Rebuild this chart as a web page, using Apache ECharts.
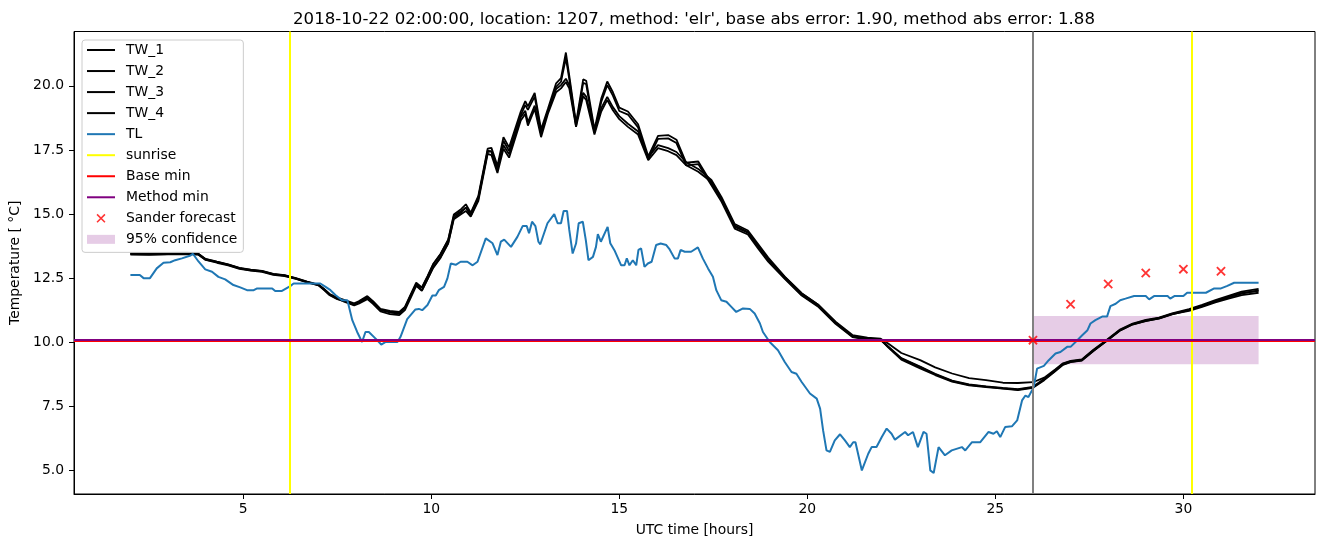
<!DOCTYPE html>
<html>
<head>
<meta charset="utf-8">
<script src="https://cdn.jsdelivr.net/npm/echarts@6/dist/echarts.min.js"></script>
<style>
html,body{margin:0;padding:0;background:#fff;}
#chart{width:1324px;height:547px;}
</style>
</head>
<body>
<div id="chart"></div>
<script>
// ---------- DATA ----------
const titleText = "2018-10-22 02:00:00, location: 1207, method: 'elr', base abs error: 1.90, method abs error: 1.88";
const xTicks = [5, 10, 15, 20, 25, 30];
const yTicks = [5.0, 7.5, 10.0, 12.5, 15.0, 17.5, 20.0];

const twHours = [
  2.0,2.5,3.0,3.5,3.8,4.0,4.3,4.6,4.9,5.2,
  5.5,5.8,6.1,6.4,6.7,7.0,7.15,7.3,7.5,7.7,
  7.95,8.07,8.3,8.45,8.65,8.9,9.15,9.3,9.45,9.6,
  9.75,9.9,10.05,10.25,10.45,10.6,10.8,10.92,11.05,11.25,
  11.5,11.6,11.76,11.92,12.07,12.38,12.5,12.57,12.75,12.92,
  13.1,13.32,13.45,13.58,13.67,13.85,14.04,14.12,14.34,14.52,
  14.68,14.83,15.0,15.23,15.5,15.77,16.03,16.3,16.52,16.78,
  17.1,17.45,17.72,18.07,18.42,18.7,18.96,19.4,19.85,20.3,
  20.75,21.2,21.6,21.95,22.15,22.5,23.0,23.4,23.85,24.3,
  24.75,25.2,25.6,26.0,26.3,26.6,26.8,27.0,27.3,27.6,
  27.95,28.3,28.65,29.0,29.35,29.7,30.15,30.5,30.85,31.2,
  31.55,32.0
];
const tw1 = [
  13.46,13.45,13.46,13.47,13.45,13.25,13.14,13.04,12.90,12.83,
  12.78,12.67,12.62,12.50,12.36,12.25,12.08,11.88,11.74,11.64,
  11.52,11.60,11.80,11.60,11.30,11.22,11.18,11.38,11.86,12.32,
  12.14,12.58,13.05,13.45,14.00,14.98,15.20,15.38,15.05,15.70,
  17.55,17.58,16.88,18.00,17.60,19.00,19.40,19.20,19.72,18.30,
  19.10,20.10,20.30,21.30,20.40,18.55,20.25,20.20,18.30,19.50,
  20.17,19.75,19.15,19.00,18.50,17.25,18.05,18.08,17.90,17.00,
  17.05,16.20,15.55,14.50,14.27,13.72,13.22,12.55,11.90,11.45,
  10.80,10.28,10.18,10.14,9.95,9.58,9.30,9.02,8.78,8.60,
  8.52,8.42,8.41,8.44,8.62,8.95,9.18,9.27,9.33,9.70,
  10.08,10.48,10.73,10.87,10.96,11.13,11.29,11.46,11.64,11.81,
  11.97,12.08
];
const tw2 = [
  13.42,13.41,13.43,13.44,13.42,13.21,13.10,13.00,12.86,12.79,
  12.74,12.63,12.58,12.47,12.33,12.22,12.03,11.83,11.68,11.60,
  11.46,11.55,11.72,11.55,11.25,11.16,11.12,11.33,11.80,12.25,
  12.02,12.46,12.92,13.33,13.87,14.85,15.07,15.25,14.93,15.57,
  17.42,17.45,16.75,17.86,17.46,18.86,19.26,19.06,19.58,18.17,
  18.97,19.96,20.16,21.08,20.26,18.42,20.12,20.06,18.17,19.37,
  20.03,19.62,19.02,18.88,18.38,17.13,17.93,17.95,17.77,16.90,
  16.95,16.12,15.48,14.43,14.20,13.64,13.14,12.47,11.82,11.37,
  10.72,10.20,10.10,10.08,9.82,9.36,9.03,8.75,8.48,8.34,
  8.27,8.20,8.15,8.24,8.55,8.90,9.14,9.23,9.29,9.66,
  10.04,10.44,10.69,10.83,10.92,11.09,11.25,11.41,11.59,11.75,
  11.90,12.02
];
const tw3 = [
  13.44,13.43,13.44,13.45,13.43,13.22,13.12,13.02,12.88,12.80,
  12.76,12.65,12.60,12.48,12.34,12.24,12.05,11.85,11.70,11.57,
  11.44,11.50,11.68,11.50,11.20,11.10,11.06,11.25,11.72,12.20,
  12.00,12.45,12.90,13.30,13.85,14.80,15.00,15.12,14.90,15.50,
  17.35,17.30,16.60,17.55,17.20,18.65,18.90,18.45,19.10,18.00,
  18.90,19.75,19.90,20.15,19.90,18.40,19.60,19.45,18.10,19.00,
  19.45,19.05,18.70,18.40,18.10,17.10,17.57,17.45,17.30,16.90,
  16.65,16.25,15.60,14.55,14.30,13.75,13.25,12.50,11.85,11.40,
  10.75,10.22,10.12,10.10,9.80,9.32,8.98,8.72,8.46,8.32,
  8.25,8.19,8.13,8.22,8.52,8.88,9.12,9.22,9.28,9.65,
  10.05,10.45,10.70,10.82,10.93,11.10,11.22,11.38,11.55,11.70,
  11.84,11.93
];
const tw4 = [
  13.48,13.47,13.48,13.49,13.46,13.24,13.13,13.03,12.89,12.82,
  12.77,12.66,12.61,12.49,12.35,12.23,12.07,11.86,11.72,11.62,
  11.48,11.57,11.75,11.58,11.27,11.19,11.15,11.35,11.82,12.28,
  12.12,12.55,13.03,13.44,13.98,14.92,15.12,15.25,15.01,15.63,
  17.47,17.43,16.72,17.68,17.33,18.78,19.03,18.58,19.23,18.13,
  19.02,19.87,20.03,20.28,20.03,18.53,19.73,19.58,18.23,19.13,
  19.57,19.17,18.82,18.52,18.22,17.22,17.69,17.57,17.42,17.02,
  16.76,16.33,15.66,14.61,14.36,13.81,13.30,12.56,11.91,11.45,
  10.78,10.24,10.14,10.12,9.84,9.38,9.05,8.77,8.50,8.36,
  8.28,8.22,8.17,8.26,8.58,8.92,9.16,9.25,9.31,9.68,
  10.06,10.46,10.71,10.85,10.94,11.11,11.26,11.43,11.60,11.77,
  11.92,12.00
];

const tlPoints = [
  [2.0,12.62],[2.25,12.62],[2.35,12.5],[2.52,12.5],[2.7,12.88],[2.88,13.1],[3.06,13.12],[3.19,13.2],[3.37,13.27],[3.6,13.38],
  [3.66,13.45],[3.81,13.15],[3.99,12.84],[4.17,12.75],[4.34,12.55],[4.52,12.45],[4.74,12.23],[4.92,12.14],[5.1,12.03],[5.28,12.03],
  [5.37,12.1],[5.77,12.1],[5.85,12.0],[6.03,12.0],[6.25,12.19],[6.34,12.29],[7.05,12.29],[7.19,12.16],[7.32,12.03],[7.45,11.84],
  [7.63,11.64],[7.77,11.64],[7.9,10.86],[8.03,10.4],[8.16,10.01],[8.25,10.4],[8.34,10.4],[8.52,10.14],[8.67,9.91],[8.79,10.01],
  [9.1,10.01],[9.18,10.2],[9.36,10.9],[9.58,11.28],[9.67,11.3],[9.76,11.25],[9.9,11.45],[10.03,11.82],[10.12,11.82],[10.2,12.03],
  [10.34,12.16],[10.43,12.49],[10.52,13.07],[10.65,13.02],[10.78,13.14],[10.96,13.14],[11.1,13.0],[11.23,13.14],[11.45,14.05],[11.5,14.1],
  [11.63,13.86],[11.76,13.4],[11.85,13.92],[11.94,14.0],[12.12,13.72],[12.29,14.11],[12.43,14.53],[12.54,14.53],[12.6,14.25],[12.68,14.7],
  [12.77,14.53],[12.85,13.92],[12.9,13.82],[13.09,14.64],[13.27,15.0],[13.36,14.64],[13.45,14.64],[13.52,15.12],[13.61,15.12],[13.67,14.38],
  [13.76,13.46],[13.85,13.85],[13.92,14.64],[14.03,14.7],[14.11,13.98],[14.18,13.2],[14.3,13.33],[14.38,13.72],[14.43,14.22],[14.51,13.92],
  [14.69,14.5],[14.76,13.86],[14.87,13.59],[15.05,13.0],[15.14,13.0],[15.2,13.27],[15.27,13.0],[15.36,13.2],[15.45,13.0],[15.51,13.6],
  [15.58,13.66],[15.67,12.94],[15.76,13.07],[15.86,13.14],[15.98,13.79],[16.1,13.85],[16.25,13.79],[16.34,13.62],[16.47,13.27],[16.56,13.27],
  [16.63,13.6],[16.74,13.53],[16.91,13.53],[17.09,13.7],[17.22,13.27],[17.36,12.88],[17.49,12.55],[17.58,12.03],[17.71,11.64],[17.85,11.58],
  [17.98,11.38],[18.11,11.18],[18.29,11.32],[18.47,11.3],[18.6,11.12],[18.74,10.73],[18.82,10.4],[19.0,10.01],[19.22,9.69],[19.4,9.23],
  [19.58,8.84],[19.71,8.77],[19.85,8.45],[20.07,8.0],[20.25,7.8],[20.34,7.41],[20.42,6.56],[20.51,5.78],[20.6,5.72],[20.73,6.17],
  [20.87,6.41],[21.0,6.17],[21.13,5.91],[21.22,6.1],[21.28,6.1],[21.45,5.0],[21.62,5.65],[21.71,5.91],[21.84,5.91],[21.98,6.3],
  [22.11,6.63],[22.24,6.43],[22.33,6.2],[22.6,6.5],[22.68,6.37],[22.81,6.5],[22.94,5.91],[23.09,6.5],[23.17,6.43],[23.27,5.0],
  [23.36,4.9],[23.49,5.91],[23.66,5.59],[23.84,5.78],[24.11,5.91],[24.2,5.78],[24.38,6.1],[24.6,6.1],[24.82,6.5],[24.95,6.43],
  [25.04,6.53],[25.13,6.3],[25.26,6.69],[25.44,6.72],[25.58,6.95],[25.71,7.73],[25.8,7.92],[25.88,7.86],[26.02,8.25],[26.11,8.97],
  [26.29,9.08],[26.42,9.3],[26.6,9.56],[26.73,9.62],[26.91,9.82],[27.0,9.82],[27.18,10.08],[27.31,10.27],[27.45,10.47],[27.53,10.73],
  [27.66,10.86],[27.84,11.0],[27.97,11.0],[28.06,11.41],[28.2,11.5],[28.32,11.64],[28.46,11.7],[28.69,11.8],[29.0,11.8],[29.09,11.67],
  [29.22,11.8],[29.58,11.8],[29.65,11.7],[29.76,11.8],[30.0,11.8],[30.1,11.93],[30.6,11.93],[30.82,12.1],[31.0,12.1],[31.17,12.2],
  [31.35,12.32],[32.0,12.32]
];

const sunriseHours = [6.25, 30.23];
const nowHour = 26.0;
const baseMin = 10.06;
const methodMin = 10.08;
const sanderHours = [26, 27, 28, 29, 30, 31];
const sanderTemps = [10.08, 11.48, 12.27, 12.70, 12.85, 12.77];
const confHours = [26, 32];
const confTemps = [9.14, 11.02];

// ---------- CHART ----------
const FONT = 'DejaVu Sans';
const FS = 13.9;
const zip = (xs, ys) => xs.map((x, i) => [x, ys[i]]);
const xPath = 'path://M0,1.4 L1.4,0 L10,8.6 L8.6,10 Z M8.6,0 L10,1.4 L1.4,10 L0,8.6 Z';
const xLegendPath = 'path://M0,0 M28,14 M9.5,3.6 L10.6,2.5 L18.5,10.4 L17.4,11.5 Z M17.4,2.5 L18.5,3.6 L10.6,11.5 L9.5,10.4 Z';
const rectLegendPath = 'path://M0,0 M28,14 M0,2.5 L28,2.5 L28,11.5 L0,11.5 Z';
const lineLegendPath = 'path://M0,0 M28,14 M0,6 L28,6 L28,8 L0,8 Z';

function lineSeries(name, data, color, width) {
  return {
    name: name, type: 'line', data: data, symbol: 'none', showSymbol: false,
    color: color, lineStyle: {color: color, width: width}, z: 2, animation: false, silent: true
  };
}
function vlineSeries(name, xs, color, z) {
  return {
    name: name, type: 'line', data: [], symbol: 'none', color: color,
    lineStyle: {color: color, width: 2}, z: z, animation: false, silent: true,
    markLine: {
      silent: true, symbol: ['none', 'none'], animation: false, label: {show: false},
      lineStyle: {color: color, width: 2, type: 'solid'}, z: z,
      data: xs.map(v => ({xAxis: v}))
    }
  };
}
function hlineSeries(name, y, color, z) {
  return {
    name: name, type: 'line', data: [], symbol: 'none', color: color,
    lineStyle: {color: color, width: 2}, z: z, animation: false, silent: true,
    markLine: {
      silent: true, symbol: ['none', 'none'], animation: false, label: {show: false},
      lineStyle: {color: color, width: 2, type: 'solid'}, z: z,
      data: [{yAxis: y}]
    }
  };
}
function lineLegend(name, color) {
  return {name: name, icon: lineLegendPath, itemStyle: {color: color, borderWidth: 0}};
}

const chart = echarts.init(document.getElementById('chart'), null, {renderer: 'canvas'});
chart.setOption({
  animation: false,
  backgroundColor: '#ffffff',
  textStyle: {fontFamily: FONT},
  title: {
    text: titleText, left: 689, top: 6, textAlign: 'center',
    textStyle: {fontFamily: FONT, fontSize: 16.6, fontWeight: 'normal', color: '#000'}
  },
  grid: {
    left: 74, right: 9, top: 31.5, bottom: 53, containLabel: false,
    show: true, borderColor: '#000', borderWidth: 1, backgroundColor: 'transparent'
  },
  legend: {
    left: 82, top: 40, orient: 'vertical', selectedMode: false,
    itemWidth: 28, itemHeight: 14, itemGap: 7.04,
    padding: [3, 6, 6, 5],
    backgroundColor: 'rgba(255,255,255,0.8)', borderColor: '#cccccc', borderWidth: 1, borderRadius: 3,
    textStyle: {fontFamily: FONT, fontSize: FS, color: '#000', lineHeight: 14, padding: [0, 0, 0, 6]},
    data: [
      lineLegend('TW_1', '#000000'), lineLegend('TW_2', '#000000'), lineLegend('TW_3', '#000000'),
      lineLegend('TW_4', '#000000'), lineLegend('TL', '#1f77b4'), lineLegend('sunrise', '#ffff00'),
      lineLegend('Base min', '#ff0000'), lineLegend('Method min', '#800080'),
      {name: 'Sander forecast', icon: xLegendPath, itemStyle: {color: '#ff0000', borderWidth: 0}},
      {name: '95% confidence', icon: rectLegendPath, itemStyle: {color: 'rgba(128,0,128,0.2)', borderWidth: 0}}
    ],
    z: 10
  },
  xAxis: {
    type: 'value', min: 0.5, max: 33.5,
    name: 'UTC time [hours]', nameLocation: 'middle', nameGap: 29,
    nameTextStyle: {fontFamily: FONT, fontSize: FS, color: '#000'},
    axisLine: {show: true, onZero: false, lineStyle: {color: '#000', width: 1}},
    axisTick: {show: true, inside: false, length: 5, lineStyle: {color: '#000', width: 1}, customValues: xTicks},
    axisLabel: {show: true, margin: 8, fontFamily: FONT, fontSize: FS, color: '#000', customValues: xTicks,
      formatter: v => String(v)},
    splitLine: {show: false}
  },
  yAxis: {
    type: 'value', min: 4.08, max: 22.12,
    name: 'Temperature [ \u00B0C]', nameLocation: 'middle', nameGap: 44,
    nameTextStyle: {fontFamily: FONT, fontSize: FS, color: '#000'},
    axisLine: {show: true, onZero: false, lineStyle: {color: '#000', width: 1}},
    axisTick: {show: true, inside: false, length: 5, lineStyle: {color: '#000', width: 1}, customValues: yTicks},
    axisLabel: {show: true, margin: 10, fontFamily: FONT, fontSize: FS, color: '#000', customValues: yTicks,
      formatter: v => Number(v).toFixed(1)},
    splitLine: {show: false}
  },
  series: [
    {
      name: '95% confidence', type: 'line', data: [], symbol: 'none', z: 1, silent: true,
      color: 'rgba(128,0,128,0.2)',
      markArea: {
        silent: true, animation: false,
        itemStyle: {color: 'rgba(128,0,128,0.2)'},
        data: [[{coord: [confHours[0], confTemps[0]]}, {coord: [confHours[1], confTemps[1]]}]]
      }
    },
    lineSeries('TW_1', zip(twHours, tw1), '#000000', 1.8),
    lineSeries('TW_2', zip(twHours, tw2), '#000000', 1.8),
    lineSeries('TW_3', zip(twHours, tw3), '#000000', 1.8),
    lineSeries('TW_4', zip(twHours, tw4), '#000000', 1.8),
    lineSeries('TL', tlPoints, '#1f77b4', 2),
    vlineSeries('sunrise', sunriseHours, '#ffff00', 3),
    vlineSeries('now', [nowHour], '#808080', 3),
    hlineSeries('Base min', baseMin, '#ff0000', 3),
    hlineSeries('Method min', methodMin, '#800080', 4),
    {
      name: 'Sander forecast', type: 'scatter', data: zip(sanderHours, sanderTemps),
      symbol: xPath, symbolSize: 9.5, itemStyle: {color: '#ff0000'}, z: 5, silent: true
    }
  ]
});
</script>
</body>
</html>
